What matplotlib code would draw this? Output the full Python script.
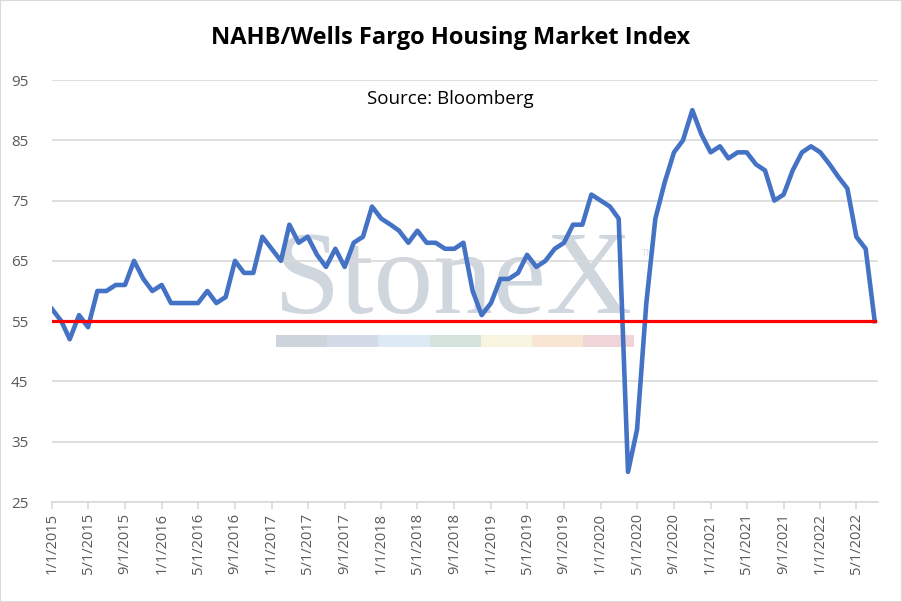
import datetime as dt
import pandas as pd
import matplotlib
matplotlib.use("Agg")
import matplotlib.pyplot as plt
import matplotlib.dates as mdates
from matplotlib.patches import Rectangle
from matplotlib.ticker import FuncFormatter

# monthly NAHB index, Jan 2015 .. Jul 2022
months = pd.date_range("2015-01-01", "2022-07-01", freq="MS")
hmi = [57, 55, 52, 56, 54, 60, 60, 61, 61, 65, 62, 60,
       61, 58, 58, 58, 58, 60, 58, 59, 65, 63, 63, 69,
       67, 65, 71, 68, 69, 66, 64, 67, 64, 68, 69, 74,
       72, 71, 70, 68, 70, 68, 68, 67, 67, 68, 60, 56,
       58, 62, 62, 63, 66, 64, 65, 67, 68, 71, 71, 76,
       75, 74, 72, 30, 37, 58, 72, 78, 83, 85, 90, 86,
       83, 84, 82, 83, 83, 81, 80, 75, 76, 80, 83, 84,
       83, 81, 79, 77, 69, 67, 55]
ref_level = 55
yticks = [25, 35, 45, 55, 65, 75, 85, 95]

wm_colors = ["#cdd4dc", "#d3dce6", "#deeaf3", "#d5e3dc",
             "#f7f5df", "#f9e6d2", "#f0d5d8"]

fig = plt.figure(figsize=(9.02, 6.02), dpi=100)
fig.patches.append(Rectangle((0, 0), 1, 1, transform=fig.transFigure,
                             fill=False, edgecolor="#d9d9d9", linewidth=1.5))
ax = fig.add_axes([52 / 902, 1 - 502 / 602, 826 / 902, 422 / 602])

ax.plot(months, hmi, color="#4472c4", linewidth=3.3, zorder=3,
        solid_joinstyle="round")
ax.plot([months[0], months[-1]], [ref_level, ref_level], color="#ff0000",
        linewidth=2.3, zorder=4)

ax.set_ylim(25, 95)
ax.set_yticks(yticks)
ax.set_xlim(months[0], dt.datetime(2022, 7, 12))
ax.xaxis.set_major_locator(mdates.MonthLocator(bymonth=[1, 5, 9]))
ax.xaxis.set_major_formatter(FuncFormatter(
    lambda v, p: (lambda d: f"{d.month}/{d.day}/{d.year}")(mdates.num2date(v))))

ax.tick_params(axis="x", labelsize=10.5, colors="#595959", length=5,
               color="#d9d9d9", width=1.2, pad=3, labelrotation=90)
ax.tick_params(axis="y", labelsize=11, colors="#595959", length=0, pad=17)
for lab in ax.get_xticklabels() + ax.get_yticklabels():
    lab.set_family("Open Sans")

ax.grid(axis="y", color="#d9d9d9", linewidth=1.2)
ax.set_axisbelow(True)
for s in ["top", "right", "left"]:
    ax.spines[s].set_visible(False)
ax.spines["bottom"].set_color("#d9d9d9")
ax.spines["bottom"].set_linewidth(1.2)

# StoneX watermark
ax.text(274 / 902, 1 - 313 / 602, "StoneX", transform=fig.transFigure,
        family="Liberation Serif", fontsize=86,
        color="#cfd6de", ha="left", va="baseline", zorder=0.4)
ax.text(641 / 902, 1 - 256 / 602, "TM", transform=fig.transFigure,
        family="DejaVu Sans", fontsize=6, color="#dde2e8",
        ha="left", va="baseline", zorder=0.4)
seg_w = 51.2
for i, c in enumerate(wm_colors):
    ax.add_patch(Rectangle(((276 + i * seg_w) / 902, 1 - 347 / 602),
                           seg_w / 902, 12 / 602, transform=fig.transFigure,
                           facecolor=c, edgecolor="none", zorder=0.4))

fig.text(451 / 902, 1 - 38 / 602, "NAHB/Wells Fargo Housing Market Index",
         ha="center", va="center", fontsize=17, fontweight="bold",
         family="Open Sans", color="black")
fig.text(450 / 902, 1 - 99 / 602, "Source: Bloomberg", ha="center",
         va="center", fontsize=13.5, family="Open Sans", color="black")

fig.savefig("out.png", dpi=100)
